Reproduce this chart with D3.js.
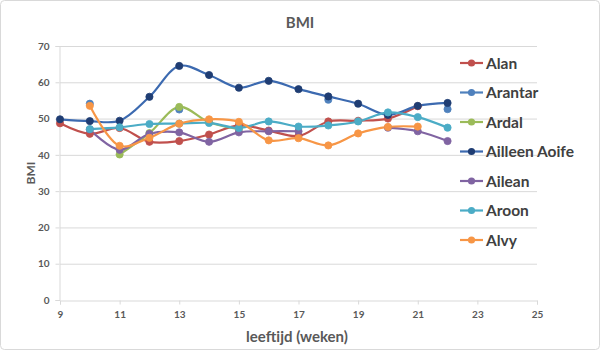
<!DOCTYPE html>
<html><head><meta charset="utf-8">
<script src="https://cdn.jsdelivr.net/npm/d3@7"></script>
<style>body{margin:0;background:#fff;}svg{display:block;font-family:Lato,"Open Sans",sans-serif;}</style>
</head><body>
<script>
const weeks = [9,10,11,12,13,14,15,16,17,18,19,20,21,22];
const seriesNames = ["Alan","Arantar","Ardal","Ailleen Aoife","Ailean","Aroon","Alvy"];
const alan     = [48.7,45.8,47.4,43.6,43.8,45.6,48.1,46.7,45.2,49.2,49.4,50.0,53.4,null];
const arantar  = [null,54.1,null,null,52.5,null,null,null,null,55.2,null,null,null,52.6];
const ardal    = [null,null,40.1,46.0,53.2,49.0,47.1,null,null,null,null,null,null,null];
const ailleen  = [49.8,49.3,49.4,56.0,64.5,62.0,58.5,60.4,58.1,56.1,54.1,51.0,53.5,54.3];
const ailean   = [null,47.0,41.4,45.8,46.2,43.6,46.2,46.5,46.5,null,null,47.5,46.5,43.8];
const aroon    = [null,47.1,47.6,48.5,48.6,48.8,47.4,49.2,47.8,48.1,49.2,51.7,50.4,47.5];
const alvy     = [null,53.5,42.5,44.7,48.6,49.8,49.1,44.0,44.6,42.6,45.9,47.7,47.8,null];
const seriesValues = [alan,arantar,ardal,ailleen,ailean,aroon,alvy];
const lineColors   = ["#c0504d","#4f81bd","#9bbb59","#3c6ab0","#8064a2","#4bacc6","#f79646"];
const markerColors = ["#c0504d","#4f81bd","#9bbb59","#1f3d73","#8064a2","#4bacc6","#f79646"];
const xTicks = [9,11,13,15,17,19,21,23,25];
const yTicks = [0,10,20,30,40,50,60,70];

const W=600,H=350;
const svg=d3.select("body").append("svg").attr("width",W).attr("height",H);
svg.append("rect").attr("x",0.5).attr("y",0.5).attr("width",W-1).attr("height",H-1)
  .attr("rx",4).attr("fill","#fff").attr("stroke","#d9d9d9");

const x=d3.scaleLinear().domain([9,25]).range([60,537]);
const y=d3.scaleLinear().domain([0,70]).range([300,46]);

// gridlines
svg.append("g").selectAll("line").data(yTicks.filter(d=>d>0)).join("line")
  .attr("x1",x(9)).attr("x2",x(25)).attr("y1",d=>y(d)+0.5).attr("y2",d=>y(d)+0.5)
  .attr("stroke","#d9d9d9").attr("stroke-width",1);

// x axis
const xa=svg.append("g").attr("transform",`translate(0,${y(0)+0.5})`)
  .call(d3.axisBottom(x).tickValues(xTicks).tickSize(4).tickPadding(6).tickFormat(d3.format("d")));
xa.select(".domain").attr("stroke","#d9d9d9");
xa.selectAll(".tick line").attr("stroke","#d9d9d9");
xa.selectAll("text").attr("fill","#595959").attr("font-size","10px").attr("font-weight","bold").attr("font-family","Lato,sans-serif");

// y axis
const ya=svg.append("g").attr("transform",`translate(${x(9)-0.5},0)`)
  .call(d3.axisLeft(y).tickValues(yTicks).tickSize(4).tickPadding(6));
ya.select(".domain").attr("stroke","#d9d9d9");
ya.selectAll(".tick line").attr("stroke","#d9d9d9");
ya.selectAll("text").attr("fill","#595959").attr("font-size","10px").attr("font-weight","bold").attr("font-family","Lato,sans-serif");

// title and axis titles
svg.append("text").attr("x",300).attr("y",28).attr("text-anchor","middle")
  .attr("font-size","15px").attr("font-weight","bold").attr("fill","#595959").text("BMI");
svg.append("text").attr("transform","translate(35,173) rotate(-90)").attr("text-anchor","middle")
  .attr("font-size","12px").attr("font-weight","bold").attr("fill","#595959").text("BMI");
svg.append("text").attr("x",297).attr("y",342).attr("text-anchor","middle")
  .attr("font-size","15px").attr("font-weight","bold").attr("fill","#595959").text("leeftijd (weken)");

// lines
const line=d3.line().defined(d=>d.v!=null).x(d=>x(d.w)).y(d=>y(d.v)).curve(d3.curveCatmullRom.alpha(0.5));
seriesValues.forEach((vals,i)=>{
  const pts=weeks.map((w,j)=>({w,v:vals[j]}));
  svg.append("path").datum(pts).attr("d",line).attr("fill","none")
    .attr("stroke",lineColors[i]).attr("stroke-width",2.2).attr("stroke-linejoin","round");
});
seriesValues.forEach((vals,i)=>{
  const pts=weeks.map((w,j)=>({w,v:vals[j]})).filter(d=>d.v!=null);
  svg.append("g").selectAll("circle").data(pts).join("circle")
    .attr("cx",d=>x(d.w)).attr("cy",d=>y(d.v)).attr("r",3.6)
    .attr("fill",markerColors[i]).attr("stroke",markerColors[i]).attr("stroke-width",0.8);
});

// legend
const lg=svg.append("g");
seriesNames.forEach((n,i)=>{
  const yy=63+i*29.5;
  lg.append("line").attr("x1",460).attr("x2",483).attr("y1",yy).attr("y2",yy)
    .attr("stroke",lineColors[i]).attr("stroke-width",2.2);
  lg.append("circle").attr("cx",471.5).attr("cy",yy).attr("r",3.6).attr("fill",markerColors[i]);
  lg.append("text").attr("x",486).attr("y",yy).attr("dy","0.36em")
    .attr("font-size","15.5px").attr("font-weight","bold").attr("fill","#404040").text(n);
});
</script>
</body></html>
